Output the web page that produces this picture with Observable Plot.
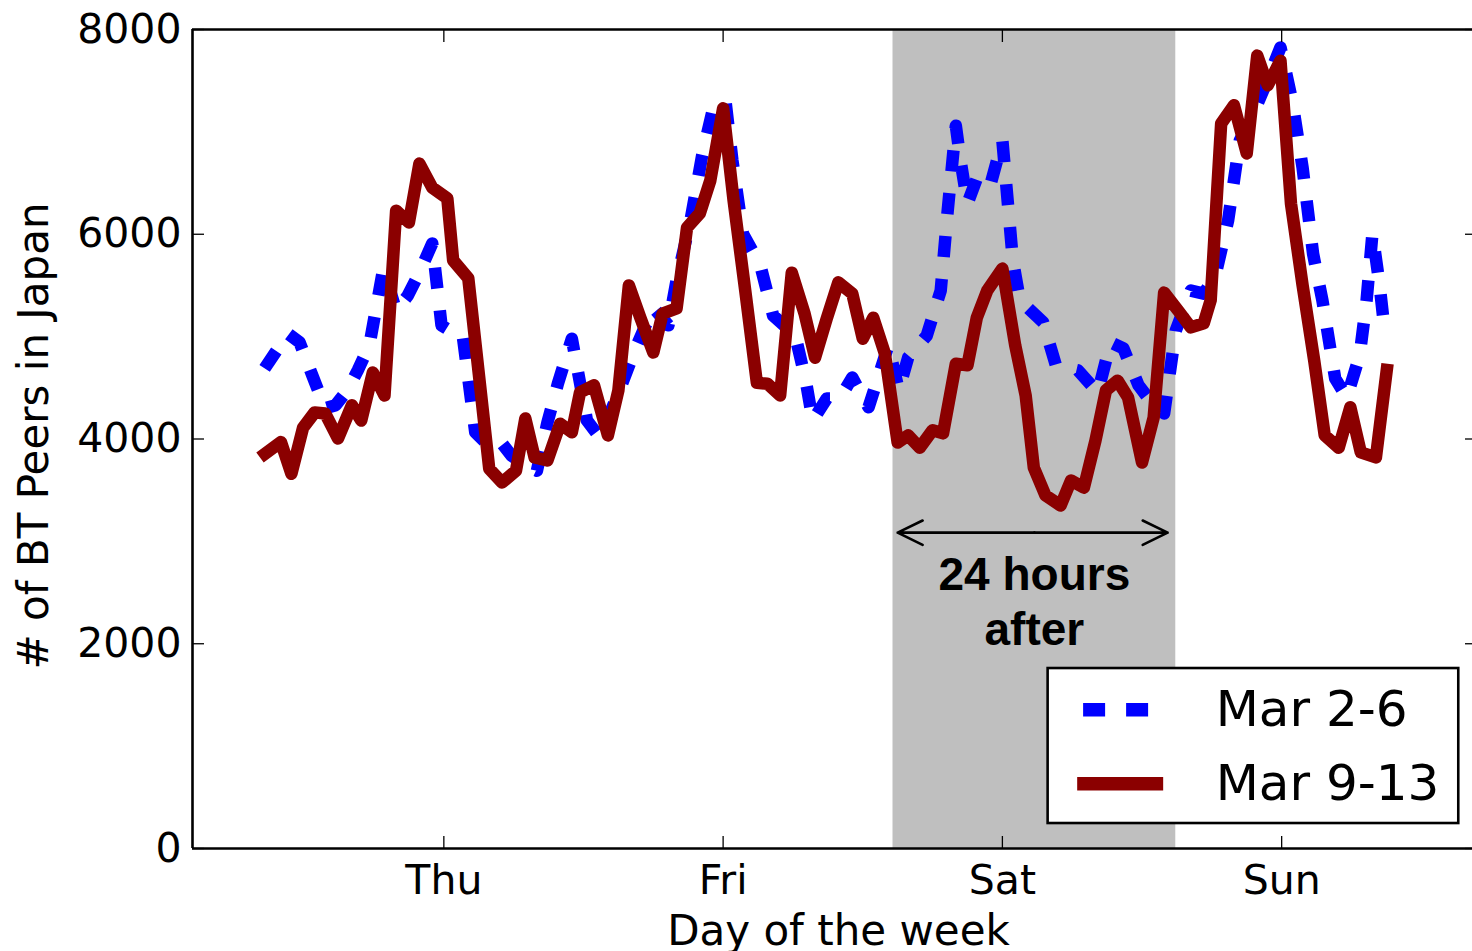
<!DOCTYPE html>
<html>
<head>
<meta charset="utf-8">
<script src="https://cdn.jsdelivr.net/npm/d3@7"></script>
<script src="https://cdn.jsdelivr.net/npm/@observablehq/plot@0.6"></script>
<style>
html, body { margin: 0; padding: 0; background: #fff; overflow: hidden; }
</style>
</head>
<body>
<div id="chart"></div>
<script>
// ---- Data (hours counted so that Thu = 24, Fri = 48, Sat = 72, Sun = 96) ----
const dayTicks = [24, 48, 72, 96];
const dayLabels = ["Thu", "Fri", "Sat", "Sun"];
const yTicks = [0, 2000, 4000, 6000, 8000];
const seriesNames = ["Mar 2-6", "Mar 9-13"];

const hoursMar2_6 = [8.6, 10.6, 11.6, 12.7, 13.8, 14.7, 15.7, 16.6, 17.6, 18.8, 19.9, 20.9, 21.9, 23.0, 23.8, 24.8, 25.6, 26.7, 27.7, 28.8, 29.8, 31.0, 32.0, 32.9, 33.8, 35.0, 36.3, 37.4, 39.1, 40.4, 42.0, 43.3, 44.0, 45.2, 46.2, 47.1, 48.2, 48.8, 49.7, 51.2, 52.3, 54.2, 55.1, 55.7, 56.9, 58.0, 59.1, 60.5, 62.2, 63.1, 63.9, 65.5, 66.7, 67.3, 68.0, 68.4, 69.0, 69.9, 71.0, 72.0, 72.9, 73.5, 75.5, 76.6, 78.5, 80.2, 81.3, 82.4, 83.7, 84.7, 85.9, 86.9, 88.2, 89.3, 90.3, 91.4, 92.4, 93.5, 94.6, 95.9, 96.9, 97.8, 98.7, 99.5, 100.6, 101.6, 102.7, 103.3, 103.8, 104.4, 104.8];
const peersMar2_6 = [4690, 5030, 4945, 4620, 4300, 4330, 4475, 4670, 4915, 5665, 5255, 5400, 5625, 5910, 5110, 5040, 5030, 4065, 3955, 3985, 3840, 3740, 3690, 4160, 4540, 4980, 4180, 4015, 4475, 4865, 5285, 5110, 5550, 6135, 6770, 7210, 7305, 6720, 6005, 5695, 5205, 5010, 4570, 4180, 4395, 4395, 4600, 4310, 4915, 4475, 4795, 5010, 5450, 6230, 7060, 6720, 6300, 6575, 6495, 6915, 5745, 5355, 5140, 4720, 4670, 4455, 4945, 4885, 4525, 4375, 4250, 5060, 5450, 5420, 5595, 6135, 6915, 7160, 7455, 7825, 7305, 6650, 5810, 5355, 4590, 4405, 4815, 5355, 6005, 5520, 5110];

const hoursMar9_13 = [8.2, 10.0, 10.9, 11.9, 12.9, 13.8, 14.9, 16.1, 16.9, 17.9, 18.9, 19.9, 21.0, 21.9, 23.0, 24.3, 24.8, 26.1, 27.9, 29.0, 30.2, 31.0, 31.8, 32.9, 34.0, 35.0, 35.7, 36.9, 38.1, 39.0, 39.9, 40.9, 42.0, 42.8, 44.0, 44.9, 46.0, 46.9, 48.0, 48.9, 49.9, 50.9, 51.8, 52.9, 53.9, 55.0, 55.9, 56.9, 57.9, 59.1, 60.0, 60.9, 61.9, 63.0, 63.9, 64.9, 66.0, 66.9, 68.0, 69.0, 69.8, 70.7, 72.0, 73.1, 74.0, 74.7, 75.7, 77.0, 77.9, 79.0, 80.0, 80.9, 81.9, 82.8, 84.0, 85.0, 85.9, 87.1, 88.2, 89.3, 89.9, 90.8, 91.9, 93.0, 93.9, 94.8, 95.9, 96.8, 97.8, 98.8, 99.7, 100.9, 101.9, 102.8, 104.1, 105.1];
const peersMar9_13 = [3820, 3970, 3660, 4110, 4260, 4250, 4005, 4330, 4180, 4650, 4425, 6230, 6115, 6690, 6455, 6350, 5745, 5570, 3710, 3575, 3690, 4200, 3820, 3790, 4150, 4065, 4455, 4525, 4035, 4475, 5500, 5180, 4845, 5225, 5275, 6065, 6205, 6525, 7230, 6330, 5450, 4550, 4540, 4425, 5625, 5225, 4795, 5175, 5530, 5420, 4980, 5185, 4835, 3965, 4035, 3915, 4085, 4055, 4735, 4720, 5185, 5450, 5665, 4915, 4425, 3720, 3450, 3350, 3595, 3525, 3985, 4475, 4570, 4405, 3770, 4210, 5430, 5255, 5090, 5130, 5355, 7080, 7260, 6790, 7745, 7455, 7695, 6300, 5500, 4765, 4035, 3915, 4310, 3870, 3820, 4735];

// highlighted 24-hour window (hours)
const windowStart = 62.6;
const windowEnd = 86.9;
const annotationText = "24 hours\nafter";

// ---- Build tables ----
const mar2_6 = hoursMar2_6.map((h, i) => ({h, v: peersMar2_6[i]}));
const mar9_13 = hoursMar9_13.map((h, i) => ({h, v: peersMar9_13[i]}));

// layout anchors expressed in data units
const xDomain = [2.4, 112.4];
const arrowY = 3085;
const arrowMid = (windowStart + windowEnd) / 2;
const legendBox = {x1: 75.93, x2: 111.22, y1: 244, y2: 1758};
const legendRows = [
  {name: seriesNames[0], y: 1355, x1: 78.98, x2: 84.57},
  {name: seriesNames[1], y: 632, x1: 78.47, x2: 85.86}
];
const legendTextX = 90.33;

const chart = Plot.plot({
  width: 1472,
  height: 951,
  marginLeft: 192,
  marginRight: 0,
  marginTop: 29,
  marginBottom: 103,
  style: {fontFamily: "'DejaVu Sans', sans-serif", fontSize: "41px", background: "white", color: "black", overflow: "visible"},
  x: {domain: xDomain},
  y: {domain: [0, 8000]},
  marks: [
    Plot.rect([{a: windowStart, b: windowEnd}], {x1: "a", x2: "b", y1: 0, y2: 8000, fill: "#bfbfbf"}),
    Plot.line(mar2_6, {x: "h", y: "v", stroke: "#0000ff", strokeWidth: 12.5, strokeDasharray: "21,22", strokeLinecap: "butt", strokeLinejoin: "round"}),
    Plot.line(mar9_13, {x: "h", y: "v", stroke: "#8b0000", strokeWidth: 12.5, strokeLinecap: "butt", strokeLinejoin: "round"}),
    Plot.arrow([{a: arrowMid, b: windowStart + 0.4}, {a: arrowMid, b: windowEnd - 0.7}], {x1: "a", x2: "b", y1: arrowY, y2: arrowY, stroke: "black", strokeWidth: 2.6, headLength: 16, headAngle: 52}),
    Plot.text([annotationText], {x: arrowMid, y: 2902, text: d => d, fontFamily: "'Liberation Sans', Arial, sans-serif", fontWeight: "bold", fontSize: 46, lineHeight: 1.196, lineAnchor: "top", textAnchor: "middle", fill: "black"}),
    // legend
    Plot.rect([legendBox], {x1: "x1", x2: "x2", y1: "y1", y2: "y2", fill: "white", stroke: "black", strokeWidth: 2.6}),
    Plot.ruleY([legendRows[0]], {y: "y", x1: "x1", x2: "x2", stroke: "#0000ff", strokeWidth: 13.5, strokeDasharray: "22,21", strokeLinecap: "butt"}),
    Plot.ruleY([legendRows[1]], {y: "y", x1: "x1", x2: "x2", stroke: "#8b0000", strokeWidth: 13.5, strokeLinecap: "butt"}),
    Plot.text(legendRows, {x: legendTextX, y: "y", text: "name", fontSize: 50, textAnchor: "start", lineAnchor: "middle", fill: "black"}),
    // axes
    Plot.axisY({anchor: "left", ticks: yTicks, tickFormat: "d", tickSize: -12, tickPadding: 23, label: null, fontSize: 41, strokeWidth: 1.3}),
    Plot.axisY({anchor: "right", ticks: yTicks, tickFormat: () => "", tickSize: -8, label: null, strokeWidth: 1.3}),
    Plot.axisX({anchor: "bottom", ticks: dayTicks, tickFormat: d => dayLabels[dayTicks.indexOf(d)], tickSize: -12, tickPadding: 28, label: null, fontSize: 41, strokeWidth: 1.3}),
    Plot.axisX({anchor: "top", ticks: dayTicks, tickFormat: () => "", tickSize: -12, label: null, strokeWidth: 1.3}),
    Plot.ruleX([xDomain[0]], {stroke: "black", strokeWidth: 2.6}),
    Plot.ruleY([0, 8000], {stroke: "black", strokeWidth: 2.6}),
    Plot.text(["Day of the week"], {frameAnchor: "bottom", text: d => d, dy: 67, dx: 6, lineAnchor: "top", textAnchor: "middle", fontSize: 42, fill: "black"}),
    Plot.text(["# of BT Peers in Japan"], {frameAnchor: "left", text: d => d, rotate: -90, dx: -158, dy: -3, lineAnchor: "middle", textAnchor: "middle", fontSize: 42, fill: "black"})
  ]
});
document.getElementById("chart").appendChild(chart);
</script>
</body>
</html>
